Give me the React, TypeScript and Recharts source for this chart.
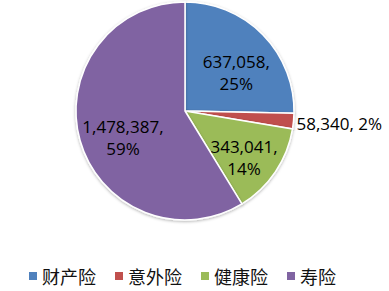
import React from "react";
import { PieChart, Pie, Cell, Legend } from "recharts";

const categories = ["财产险", "意外险", "健康险", "寿险"];
const values = [637058, 58340, 343041, 1478387];
const colors = ["#4F81BD", "#C0504D", "#9BBB59", "#8064A2"];

const data = categories.map((name, i) => ({ name, value: values[i] }));

const RADIAN = Math.PI / 180;

const renderLabel = (props: any) => {
  const { cx, cy, midAngle, outerRadius, percent, value } = props;
  const pct = `${Math.round(percent * 100)}%`;
  const num = Number(value).toLocaleString("en-US");
  const style = { fontFamily: "'Open Sans', sans-serif", fontSize: 17 };
  // small slices get their label outside, on one line
  if (percent < 0.05) {
    const r = outerRadius + 3;
    const x = cx + r * Math.cos(-midAngle * RADIAN);
    const y = cy + r * Math.sin(-midAngle * RADIAN);
    return (
      <text x={x} y={y + 2} fill="#000" textAnchor="start" dominantBaseline="central" style={style}>
        {`${num}, ${pct}`}
      </text>
    );
  }
  const r = outerRadius * 0.62;
  const x = cx + r * Math.cos(-midAngle * RADIAN) + 3;
  const y = cy + r * Math.sin(-midAngle * RADIAN) + 8;
  return (
    <text x={x} y={y} fill="#000" textAnchor="middle" dominantBaseline="central" style={style}>
      <tspan x={x} dy={-11}>{`${num},`}</tspan>
      <tspan x={x} dy={22}>{pct}</tspan>
    </text>
  );
};

// legend drawn straight from the category list so the order stays as in the data
const renderLegend = () => (
  <div
    style={{
      display: "flex",
      justifyContent: "center",
      fontFamily: "'Noto Sans CJK SC', sans-serif",
      fontSize: 18,
      color: "#111",
      paddingRight: 24,
    }}
  >
    {categories.map((name, i) => (
      <div key={name} style={{ display: "flex", alignItems: "center", marginRight: i < categories.length - 1 ? 19 : 0 }}>
        <span style={{ width: 8, height: 8, background: colors[i], marginRight: 5, display: "inline-block" }} />
        <span>{name}</span>
      </div>
    ))}
  </div>
);

export default function App() {
  return (
    <div style={{ position: "absolute", left: 0, top: 0, width: 389, height: 291, background: "#fff" }}>
      <PieChart width={389} height={291} margin={{ top: 0, right: 0, bottom: 0, left: 0 }}>
        <defs>
          <filter id="pieShadow" x="-10%" y="-10%" width="120%" height="120%">
            <feDropShadow dx="0" dy="1" stdDeviation="1.5" floodColor="#000" floodOpacity="0.3" />
          </filter>
        </defs>
        <Pie
          data={data}
          dataKey="value"
          nameKey="name"
          cx={185}
          cy={111}
          outerRadius={109}
          startAngle={90}
          endAngle={-270}
          stroke="#fff"
          strokeWidth={1.5}
          label={renderLabel}
          labelLine={false}
          isAnimationActive={false}
          style={{ filter: "url(#pieShadow)" }}
        >
          {data.map((d, i) => (
            <Cell key={d.name} fill={colors[i]} />
          ))}
        </Pie>
        <Legend
          verticalAlign="bottom"
          align="center"
          content={renderLegend}
          wrapperStyle={{ bottom: 2 }}
        />
      </PieChart>
    </div>
  );
}
